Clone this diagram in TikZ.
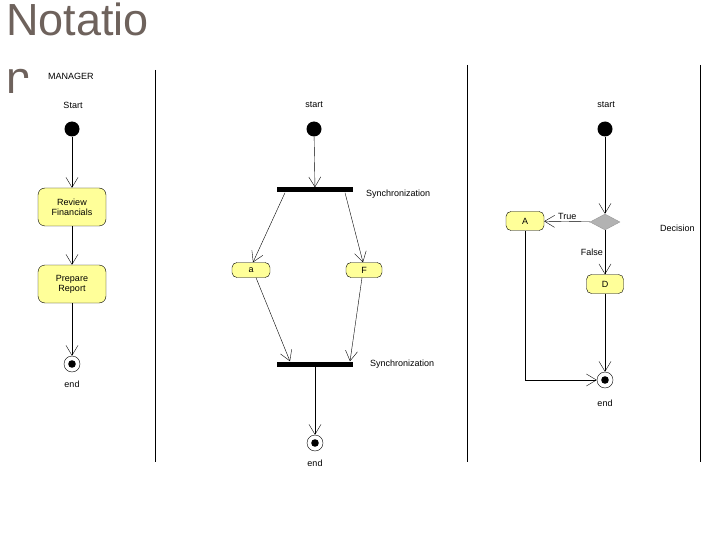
\documentclass[tikz,border=0pt]{standalone}
\usepackage{fontspec}
\setmainfont{Liberation Sans}
\usetikzlibrary{arrows.meta,shapes.geometric}
\definecolor{titlegray}{RGB}{110,98,92}
\definecolor{actyellow}{RGB}{255,255,153}
\begin{document}
\begin{tikzpicture}[x=1pt, y=-1pt,
        every node/.style={font=\fontsize{9}{10}\selectfont, inner sep=0pt},
        actbox/.style={rectangle, rounded corners=7pt, draw, thin,
            fill=actyellow, align=center, text centered},
        initdot/.style={circle, fill=black, minimum size=15pt},
        finaldot/.style={circle, draw, thin, minimum size=16pt,
            path picture={\fill (path picture bounding box.center) circle (3.8pt);}},
        syncbar/.style={rectangle, fill=black, minimum width=76pt, minimum height=5pt},
        decision/.style={diamond, draw=gray!80, fill=gray!60, aspect=2,
            minimum width=30pt, minimum height=16pt},
        lane/.style={line width=1pt},
        arrow/.style={-{Straight Barb[length=10pt,width=12pt]}, thin},
        label/.style={font=\fontsize{9}{10}\selectfont}
      ]
      \useasboundingbox (0,0) rectangle (720,540);
      % title
      \node[font=\fontsize{45}{45}\selectfont, text=titlegray, anchor=north west]
      (title) at (6,3) {Notatio};
      \node[font=\fontsize{45}{45}\selectfont, text=titlegray, anchor=north west]
      (titlen) at (6,69) {n};
      \node[fill=white, anchor=north west, minimum width=80pt, minimum height=28pt]
      (cover) at (21.5,78) {};
      \node[label, anchor=west] (manager) at (48,76) {MANAGER};
      % swimlanes
      \coordinate (l1t) at (155,70);  \coordinate (l1b) at (155,462);
      \coordinate (l2t) at (467,65);  \coordinate (l2b) at (467,462);
      \coordinate (l3t) at (700,65);  \coordinate (l3b) at (700,462);
      \draw[lane] (l1t) -- (l1b);
      \draw[lane] (l2t) -- (l2b);
      \draw[lane] (l3t) -- (l3b);
      % lane 1
      \node[label] (st1) at (73,105) {Start};
      \node[initdot] (i1) at (72,129) {};
      \node[actbox, minimum width=68pt, minimum height=38pt] (review) at (72,207)
      {Review\\Financials};
      \node[actbox, minimum width=68pt, minimum height=38pt] (prepare) at (72,284)
      {Prepare\\Report};
      \node[finaldot] (f1) at (72,364) {};
      \node[label] (en1) at (72,384) {end};
      \draw[arrow] (i1) -- (review);
      \draw[arrow] (review) -- (prepare);
      \draw[arrow] (prepare) -- (f1);
      % lane 2
      \node[label] (st2) at (314,105) {start};
      \node[initdot] (i2) at (314,129) {};
      \node[syncbar] (fork) at (315,190) {};
      \node[label, anchor=west] (sync1) at (366,194) {Synchronization};
      \node[actbox, rounded corners=5pt, minimum width=38pt, minimum height=15pt]
      (a) at (251,270) {a};
      \node[actbox, rounded corners=5pt, minimum width=36pt, minimum height=15pt]
      (f) at (364,270) {F};
      \node[syncbar] (join) at (315,364) {};
      \node[label, anchor=west] (sync2) at (370,364) {Synchronization};
      \node[finaldot] (f2) at (315,443) {};
      \node[label] (en2) at (315,463) {end};
      \draw[arrow] (i2) -- (fork);
      \draw[arrow] ([xshift=-30pt]fork.south) -- ([xshift=2pt]a.north);
      \draw[arrow] ([xshift=30pt]fork.south) -- ([xshift=-1pt]f.north);
      \draw[arrow] ([xshift=5pt]a.south) -- ([xshift=-25pt]join.north);
      \draw[arrow] ([xshift=-2pt]f.south) -- ([xshift=35pt]join.north);
      \draw[arrow] (join) -- (f2);
      % lane 3
      \node[label] (st3) at (606,105) {start};
      \node[initdot] (i3) at (605,129) {};
      \node[decision] (dec) at (605,222) {};
      \node[label, anchor=west] (decl) at (660,228) {Decision};
      \node[actbox, rounded corners=5pt, minimum width=38pt, minimum height=19pt]
      (A) at (525,221) {A};
      \node[actbox, rounded corners=5pt, minimum width=37pt, minimum height=19pt]
      (D) at (605,284) {D};
      \node[finaldot] (f3) at (605,380) {};
      \node[label] (en3) at (605,403) {end};
      \draw[arrow] (i3) -- (dec);
      \draw[arrow] (dec) -- node[label, above, yshift=2pt] {True} (A);
      \draw[arrow] (dec) -- node[label, left, xshift=-2pt] {False} (D);
      \draw[arrow] (A) |- (f3);
      \draw[arrow] (D) -- (f3);
    \end{tikzpicture}
\end{document}
